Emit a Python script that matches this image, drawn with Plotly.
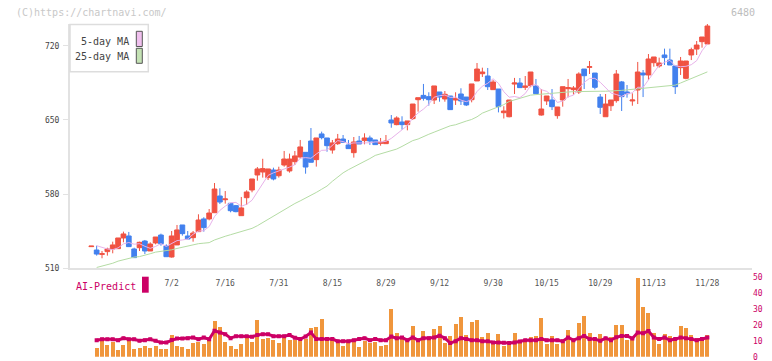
import plotly.graph_objects as go
import numpy as np

# ---------------- data ----------------
idx = list(range(116))

open_ = [530.2, 527.0, 522.9, 525.5, 528.0, 528.3, 538.4, 540.3, 528.0, 529.2,
         535.5, 526.1, 533.7, 541.2, 530.8, 520.4, 531.8, 550.7, 540.3, 538.7,
         544.4, 556.4, 556.4, 562.3, 578.1, 574.6, 571.2, 569.0, 559.5, 576.5,
         583.8, 598.0, 600.8, 595.5, 602.7, 597.3, 607.4, 601.8, 610.6, 615.0,
         619.4, 630.1, 612.5, 636.8, 633.0, 621.6, 627.6, 632.0, 626.4, 619.1,
         630.1, 630.5, 633.0, 631.1, 627.9, 627.6, 650.0, 645.6, 648.1, 645.6,
         651.3, 669.2, 673.3, 672.1, 668.9, 676.5, 669.9, 672.7, 668.9, 674.6,
         671.7, 669.2, 686.9, 693.8, 691.6, 678.7, 679.3, 656.9, 653.1, 684.0,
         685.0, 680.9, 682.5, 682.1, 654.7, 668.0, 668.9, 654.1, 668.9, 679.6,
         678.7, 676.5, 698.2, 699.8, 694.4, 671.7, 653.1, 663.5, 668.3, 686.0,
         676.5, 668.0, 678.4, 694.4, 692.6, 704.2, 701.1, 711.5, 706.7, 701.1,
         699.5, 689.4, 711.5, 717.1, 724.1, 721.9]

high = [530.7, 531.1, 526.1, 529.2, 534.9, 538.4, 544.4, 544.1, 529.2, 534.9,
        536.5, 534.3, 539.3, 542.5, 532.4, 545.0, 550.7, 550.7, 545.0, 545.0,
        560.8, 558.0, 565.8, 590.4, 585.4, 582.8, 571.2, 569.6, 577.2, 583.5,
        594.2, 605.5, 613.3, 603.7, 604.9, 605.8, 620.7, 618.2, 620.7, 631.1,
        619.4, 642.4, 633.0, 639.0, 633.0, 631.1, 636.8, 635.8, 631.1, 633.9,
        634.9, 637.4, 635.2, 631.1, 633.0, 635.8, 654.7, 653.5, 653.5, 649.1,
        665.1, 671.1, 684.1, 676.2, 682.2, 676.5, 677.4, 672.7, 676.2, 680.0,
        671.7, 684.1, 703.9, 699.5, 699.2, 687.8, 679.3, 663.0, 668.9, 689.8,
        689.7, 691.6, 695.4, 688.8, 679.3, 672.7, 679.3, 662.3, 681.5, 688.8,
        682.1, 695.1, 698.2, 705.8, 694.4, 674.6, 674.6, 668.9, 697.3, 686.9,
        683.1, 675.2, 704.9, 697.3, 712.4, 709.6, 709.0, 717.5, 717.5, 701.1,
        709.6, 705.8, 718.4, 724.7, 728.5, 740.8]

low = [530.2, 521.7, 519.2, 521.7, 523.9, 528.3, 534.3, 529.9, 519.8, 526.1,
       523.2, 526.1, 532.4, 531.1, 520.7, 519.8, 531.8, 540.6, 537.4, 534.9,
       544.4, 544.4, 555.1, 562.3, 570.5, 570.9, 562.7, 562.7, 559.5, 569.6,
       581.6, 592.6, 595.5, 593.2, 592.9, 595.5, 605.8, 600.2, 607.4, 613.7,
       599.2, 610.0, 605.9, 631.7, 620.0, 618.2, 626.4, 628.9, 622.9, 614.4,
       627.3, 627.0, 626.4, 626.7, 625.7, 627.6, 642.7, 645.0, 640.9, 640.2,
       650.0, 657.9, 668.3, 663.6, 665.1, 667.3, 667.3, 659.8, 664.2, 664.2,
       663.2, 666.7, 686.9, 690.7, 678.4, 678.7, 657.2, 651.4, 652.5, 674.6,
       680.6, 678.4, 681.0, 674.9, 654.1, 664.2, 659.4, 651.2, 662.6, 671.4,
       674.0, 674.6, 679.3, 693.5, 679.0, 655.7, 653.1, 658.5, 666.4, 658.5,
       671.1, 663.5, 665.1, 671.7, 687.8, 700.4, 699.5, 702.0, 702.0, 674.6,
       692.6, 688.5, 706.7, 711.5, 718.4, 721.9]

close = [530.7, 523.2, 523.5, 528.0, 531.8, 538.4, 542.2, 530.2, 519.8, 534.3,
         526.1, 532.7, 539.3, 533.0, 520.7, 540.3, 546.0, 542.5, 537.4, 543.1,
         555.4, 548.2, 562.0, 584.7, 572.4, 575.3, 564.2, 563.3, 566.8, 581.9,
         594.2, 603.7, 604.0, 603.7, 594.2, 602.7, 613.1, 613.1, 616.0, 624.5,
         605.5, 610.0, 633.0, 633.3, 625.7, 628.3, 632.0, 628.9, 622.9, 629.2,
         627.3, 633.0, 630.1, 626.7, 628.9, 630.1, 647.2, 651.9, 645.6, 649.1,
         665.1, 671.1, 670.5, 669.2, 682.2, 671.7, 674.3, 659.8, 670.2, 668.0,
         664.2, 684.1, 698.2, 695.4, 681.5, 685.9, 662.6, 658.5, 668.9, 685.0,
         680.6, 682.1, 695.4, 674.9, 660.4, 672.7, 662.6, 662.3, 681.5, 680.6,
         680.3, 693.5, 691.9, 700.4, 680.9, 662.0, 665.1, 668.9, 693.5, 672.1,
         674.9, 668.9, 695.4, 692.6, 707.7, 709.6, 703.9, 709.0, 702.0, 681.5,
         705.8, 705.8, 716.5, 720.9, 728.5, 738.9]

ma5 = [None, 531.1, 529.2, 528.0, 527.4, 529.0, 532.8, 534.1, 532.5, 533.0,
       530.5, 528.6, 530.4, 533.1, 530.4, 533.2, 535.9, 536.5, 537.4, 541.9,
       544.9, 545.3, 549.2, 558.7, 564.5, 568.5, 571.7, 572.0, 568.4, 570.3,
       574.1, 582.0, 590.2, 597.6, 600.0, 601.7, 603.6, 605.4, 607.8, 613.9,
       614.4, 613.8, 617.8, 621.3, 621.5, 626.1, 630.5, 629.6, 627.6, 628.3,
       628.1, 628.3, 628.5, 629.3, 629.2, 629.8, 632.6, 637.0, 640.7, 644.8,
       651.8, 656.6, 660.3, 665.0, 671.6, 672.9, 673.6, 671.4, 671.6, 668.8,
       667.3, 669.3, 676.9, 682.0, 684.7, 689.0, 684.7, 676.8, 671.5, 672.2,
       671.1, 675.0, 682.4, 683.6, 678.7, 677.1, 673.2, 666.6, 667.9, 671.9,
       673.5, 679.6, 685.6, 689.3, 689.4, 685.7, 680.1, 675.5, 674.1, 672.3,
       674.9, 675.7, 681.0, 680.8, 687.9, 694.8, 701.8, 704.6, 706.4, 701.2,
       700.4, 700.8, 702.3, 706.1, 715.5, 722.1]

ma25 = [None, 510.5, 511.6, 512.8, 514.5, 516.5, 517.8, 519.5, 520.3, 520.8,
        521.8, 523.5, 525.0, 525.6, 526.0, 527.2, 528.5, 529.8, 531.0, 532.0,
        533.0, 533.5, 534.0, 536.5, 538.5, 540.0, 541.5, 543.0, 544.5, 545.5,
        547.5, 550.0, 553.0, 556.5, 559.5, 562.5, 565.0, 568.0, 571.0, 573.5,
        576.0, 578.5, 581.5, 584.5, 587.5, 592.0, 596.0, 600.0, 603.0, 605.5,
        608.5, 611.0, 613.5, 616.5, 618.0, 619.5, 620.5, 622.5, 625.0, 628.0,
        630.5, 632.0, 634.5, 636.5, 638.5, 640.5, 643.0, 644.5, 645.5, 647.5,
        649.0, 650.5, 653.0, 656.5, 658.5, 660.0, 662.0, 664.5, 667.5, 669.0,
        670.5, 672.0, 673.5, 674.0, 674.5, 674.8, 675.2, 675.5, 676.0, 676.5,
        676.8, 677.0, 677.3, 677.5, 677.3, 677.2, 677.2, 677.3, 677.5, 678.0,
        678.5, 679.0, 679.5, 680.0, 680.8, 681.5, 682.0, 682.3, 682.5, 683.0,
        685.0, 687.0, 689.5, 691.5, 693.5, 695.5]

volume = [None, 5.4, 9.8, 7.3, 9.0, 4.2, 7.3, 10.4, 4.8, 5.6,
          6.7, 5.4, 6.7, 4.8, 4.8, 13.6, 6.7, 6.1, 4.8, 8.6,
          9.2, 7.9, 10.4, 22.3, 18.6, 9.2, 6.7, 4.8, 7.9, 13.6,
          9.2, 22.9, 11.1, 11.7, 10.4, 8.6, 11.9, 10.4, 10.4, 9.8,
          11.1, 17.9, 18.6, 23.6, 10.4, 10.4, 8.6, 6.7, 9.2, 9.8,
          6.1, 9.8, 8.6, 9.2, 6.7, 7.3, 29.8, 14.8, 11.7, 10.4,
          19.2, 9.8, 16.1, 11.7, 17.3, 19.2, 8.6, 12.9, 20.4, 24.8,
          13.6, 21.7, 22.9, 12.3, 14.8, 7.9, 14.2, 6.7, 7.3, 14.8,
          9.2, 10.4, 12.3, 12.9, 24.2, 7.9, 12.9, 7.9, 9.2, 16.7,
          11.1, 21.1, 25.4, 14.8, 11.1, 14.2, 11.7, 12.3, 19.8, 19.8,
          10.4, 11.1, 49.2, 31.1, 27.3, 14.8, 7.9, 14.2, 12.9, 11.1,
          19.2, 17.9, 13.6, 11.7, 9.8, 13.6]

ai_predict = [None, 10.4, 11.0, 11.0, 11.0, 10.4, 11.7, 11.0, 11.0, 10.0,
              10.4, 11.0, 10.0, 9.0, 9.0, 10.5, 11.5, 11.5, 11.7, 12.1,
              11.0, 12.1, 11.0, 16.3, 15.2, 14.2, 11.7, 12.9, 12.9, 12.9,
              12.6, 13.6, 14.2, 14.2, 12.9, 12.9, 12.9, 13.6, 11.9, 11.1,
              12.7, 15.2, 11.1, 11.1, 11.1, 11.1, 9.8, 9.8, 9.8, 10.4,
              11.1, 11.7, 10.4, 11.1, 10.4, 10.4, 12.7, 11.7, 12.1, 10.4,
              12.1, 10.4, 11.7, 11.7, 12.1, 13.2, 11.7, 8.6, 9.8, 11.7,
              11.1, 10.4, 10.4, 9.8, 9.8, 9.0, 9.0, 8.8, 8.6, 9.0,
              9.6, 10.4, 10.4, 10.4, 11.1, 10.4, 10.4, 10.4, 9.8, 12.1,
              10.4, 11.7, 13.1, 11.1, 11.1, 10.0, 11.7, 10.4, 12.3, 13.1,
              13.1, 11.5, 15.2, 14.8, 16.1, 12.1, 11.1, 12.1, 10.4, 11.1,
              12.1, 11.7, 11.1, 10.4, 11.1, 12.1]

date_tick_pos = [15, 25, 35, 45, 55, 65, 75, 85, 95, 105, 115]
date_tick_labels = ["7/2", "7/16", "7/31", "8/15", "8/29", "9/12", "9/30",
                    "10/15", "10/29", "11/13", "11/28"]
price_ticks = [510, 580, 650, 720]
vol_ticks = [0, 10, 20, 30, 40, 50]

# ---------------- layout helpers ----------------
W, H = 772, 361
ML, MR, MT, MB = 70, 20, 24, 3
PW, PH = W - ML - MR, H - MT - MB


def px(x):
    return (x - ML) / PW


def py(y):
    return (H - MB - y) / PH


X_RANGE = [-3.976, 123.33]
Y_RANGE = [510, 740.8]
FONT = "DejaVu Sans Mono"
AXC = "#e2e2e2"
RED = "#f05242"
BLUE = "#4280ee"
MAG = "#cc0066"

fig = go.Figure()

fig.add_trace(go.Scatter(x=idx, y=ma25, mode="lines", xaxis="x", yaxis="y",
                         line=dict(color="#b4dca4", width=1), hoverinfo="skip"))
fig.add_trace(go.Scatter(x=idx, y=ma5, mode="lines", xaxis="x", yaxis="y",
                         line=dict(color="#e8b2ea", width=1), hoverinfo="skip"))
fig.add_trace(go.Candlestick(
    x=idx, open=open_, high=high, low=low, close=close, xaxis="x", yaxis="y",
    increasing=dict(line=dict(color=RED, width=1), fillcolor=RED),
    decreasing=dict(line=dict(color=BLUE, width=1), fillcolor=BLUE),
    whiskerwidth=0))

fig.add_trace(go.Bar(x=idx, y=volume, xaxis="x2", yaxis="y2",
                     marker=dict(color="#f0963c", line=dict(width=0)), width=0.74))
fig.add_trace(go.Scatter(x=idx, y=ai_predict, mode="lines+markers", xaxis="x2", yaxis="y2",
                         line=dict(color=MAG, width=3),
                         marker=dict(symbol="square", size=4, color=MAG)))

tick_grid = list(np.linspace(X_RANGE[0], X_RANGE[1], 12))

fig.update_layout(
    width=W, height=H,
    margin=dict(l=ML, r=MR, t=MT, b=MB, pad=0),
    paper_bgcolor="white", plot_bgcolor="white",
    showlegend=False,
    boxgap=0.12, boxgroupgap=0,
    bargap=0,
    font=dict(family=FONT, color="#555555"),
    xaxis=dict(domain=[0, 1], anchor="y", range=X_RANGE, rangeslider=dict(visible=False),
               showline=True, linecolor=AXC, linewidth=2, showgrid=False, zeroline=False,
               tickmode="array", tickvals=date_tick_pos, ticktext=date_tick_labels,
               ticks="", tickfont=dict(size=8, color="#555555", family=FONT),
               ticklabelstandoff=6, automargin=False),
    xaxis3=dict(overlaying="x", anchor="y", range=X_RANGE, showline=False, showgrid=False,
                zeroline=False, tickmode="array", tickvals=tick_grid, ticks="outside",
                ticklen=5, tickwidth=1.3, tickcolor=AXC, showticklabels=False),
    xaxis4=dict(overlaying="x", anchor="y", range=X_RANGE, showline=False, showgrid=False,
                zeroline=False, tickmode="array", tickvals=tick_grid, ticks="inside",
                ticklen=5, tickwidth=1.3, tickcolor=AXC, showticklabels=False),
    yaxis=dict(domain=[py(268), 1], anchor="x", range=Y_RANGE, showline=True, linecolor=AXC,
               linewidth=2, showgrid=False, zeroline=False, tickmode="array",
               tickvals=price_ticks, ticks="outside", ticklen=5, tickwidth=1, tickcolor=AXC,
               tickfont=dict(size=8, color="#444444", family=FONT), automargin=False,
               ticklabelstandoff=2),
    yaxis3=dict(overlaying="y", anchor="x", range=Y_RANGE, showline=False, showgrid=False,
                zeroline=False, tickmode="array", tickvals=price_ticks, ticks="inside",
                ticklen=4, tickwidth=1, tickcolor=AXC, showticklabels=False),
    xaxis2=dict(domain=[0, 1], anchor="y2", range=X_RANGE, showline=False, showgrid=False,
                zeroline=False, showticklabels=False, ticks=""),
    yaxis2=dict(domain=[py(356.8), py(277)], anchor="x2", range=[0, 50], side="right",
                showline=False, showgrid=False, zeroline=False, tickmode="array",
                tickvals=vol_ticks, ticks="", automargin=False, ticklabeloverflow="allow",
                tickfont=dict(size=8, color=MAG, family=FONT)),
)

shapes = [
    dict(type="rect", xref="paper", yref="paper", x0=px(70), x1=px(148.3),
         y0=py(71.7), y1=py(24.5), line=dict(color="#dddddd", width=1.5), fillcolor="white"),
    dict(type="rect", xref="paper", yref="paper", x0=px(136.3), x1=px(142.3),
         y0=py(46.5), y1=py(31.3), line=dict(color="#555555", width=1), fillcolor="#f0c0ee"),
    dict(type="rect", xref="paper", yref="paper", x0=px(136.3), x1=px(142.3),
         y0=py(63.3), y1=py(48.3), line=dict(color="#555555", width=1), fillcolor="#c4e2b4"),
    dict(type="rect", xref="paper", yref="paper", x0=px(142), x1=px(148.7),
         y0=py(292.7), y1=py(276.7), line=dict(width=0), fillcolor=MAG),
]
fig.update_layout(shapes=shapes)

ann = [
    dict(text="(C)https://chartnavi.com/", x=px(14), y=py(12.5), xanchor="left",
         font=dict(size=10, color="#c8c8c8", family=FONT)),
    dict(text="6480", x=px(757.3), y=py(12.5), xanchor="right",
         font=dict(size=10, color="#bdbdbd", family=FONT)),
    dict(text="5-day MA", x=px(130.5), y=py(41.5), xanchor="right",
         font=dict(size=10, color="#444444", family=FONT)),
    dict(text="25-day MA", x=px(130.5), y=py(57), xanchor="right",
         font=dict(size=10, color="#444444", family=FONT)),
    dict(text="AI-Predict", x=px(73.5), y=py(286), xanchor="left",
         font=dict(size=10, color=MAG, family=FONT)),
]
for a in ann:
    a.update(xref="paper", yref="paper", yanchor="middle", showarrow=False)
fig.update_layout(annotations=ann)

fig.write_html("out.html", config={"displayModeBar": False},
               post_script="document.body.style.margin='0px';")
